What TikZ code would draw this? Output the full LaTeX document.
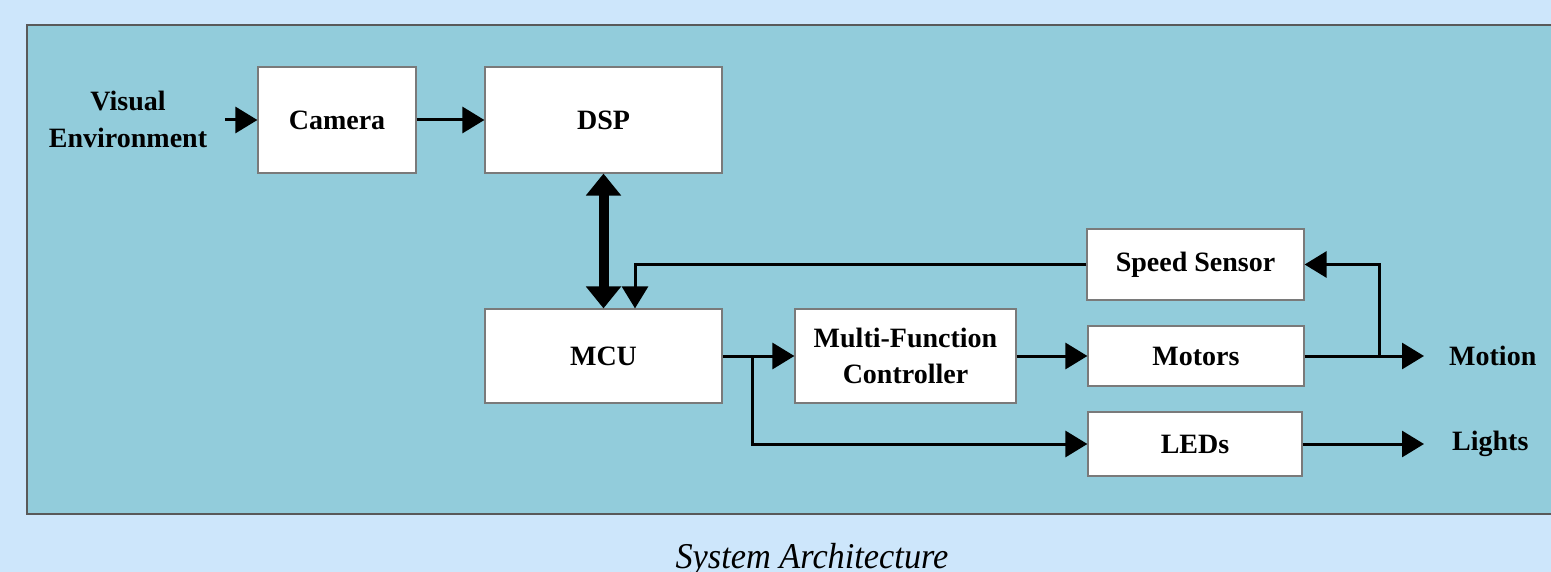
\documentclass[tikz,border=0pt]{standalone}
\usepackage{fontspec}
\setmainfont{Liberation Serif}
\usetikzlibrary{arrows.meta}
\definecolor{pagebg}{HTML}{CDE6FB}
\definecolor{panelbg}{HTML}{92CCDB}
\definecolor{edgegrey}{HTML}{7A7A7A}
\begin{document}
\begin{tikzpicture}[x=1pt,y=-1pt,
  block/.style={draw=edgegrey,line width=1.2pt,fill=white,inner sep=0pt,
    align=center,font=\fontsize{28}{36}\selectfont\bfseries},
  label/.style={inner sep=0pt,align=center,font=\fontsize{28}{37}\selectfont\bfseries},
  flow/.style={line width=3pt,-{Triangle[length=22pt,width=26pt]}},
  bus/.style={line width=10pt,{Triangle[length=22pt,width=34pt]}-{Triangle[length=22pt,width=34pt]}}]
  % page and panel
  \fill[pagebg] (0,0) rectangle (1551,572);
  \clip (0,0) rectangle (1551,572);
  \draw[draw=gray!70!black,line width=1.5pt,fill=panelbg] (27,25) rectangle (1570,514);

  % blocks
  \node[block,minimum width=158pt,minimum height=106pt] (cam) at (337,120) {Camera};
  \node[block,minimum width=237pt,minimum height=106pt] (dsp) at (603.5,120) {DSP};
  \node[block,minimum width=237pt,minimum height=94pt] (mcu) at (603.5,356) {MCU};
  \node[block,minimum width=221pt,minimum height=94pt] (mfc) at (905.5,356) {Multi-Function\\Controller};
  \node[block,minimum width=217pt,minimum height=71pt] (spd) at (1195.5,264.5) {Speed Sensor};
  \node[block,minimum width=216pt,minimum height=60pt] (mot) at (1196,356) {Motors};
  \node[block,minimum width=214pt,minimum height=64pt] (led) at (1195,444) {LEDs};

  % outer labels
  \node[label] (env) at (128,119) {Visual\\Environment};
  \node[label,anchor=west] (motion) at (1449,356) {Motion};
  \node[label,anchor=west] (lights) at (1452,444) {Lights};

  % junction points
  \coordinate (envout) at (225,120);
  \coordinate (split) at (752,356);
  \coordinate (tap) at (1379,356);
  \coordinate (motend) at (1424,356);
  \coordinate (ledend) at (1424,444);

  % connectors
  \draw[flow] (envout) -- (cam.west);
  \draw[flow] (cam.east) -- (dsp.west);
  \draw[bus] (dsp.south) -- (mcu.north);
  \draw[flow] (spd.west) -| ([xshift=31.5pt]mcu.north);
  \draw[flow] (mcu.east) -- (mfc.west);
  \draw[flow] (split) |- (led.west);
  \draw[flow] (mfc.east) -- (mot.west);
  \draw[flow] (mot.east) -- (motend);
  \draw[flow] (tap) |- (spd.east);
  \draw[flow] (led.east) -- (ledend);

  % caption
  \node[inner sep=0pt,font=\fontsize{33}{36}\selectfont\itshape,xscale=1.04,yscale=1.1] (cap) at (812,560) {System Architecture};
\end{tikzpicture}
\end{document}
